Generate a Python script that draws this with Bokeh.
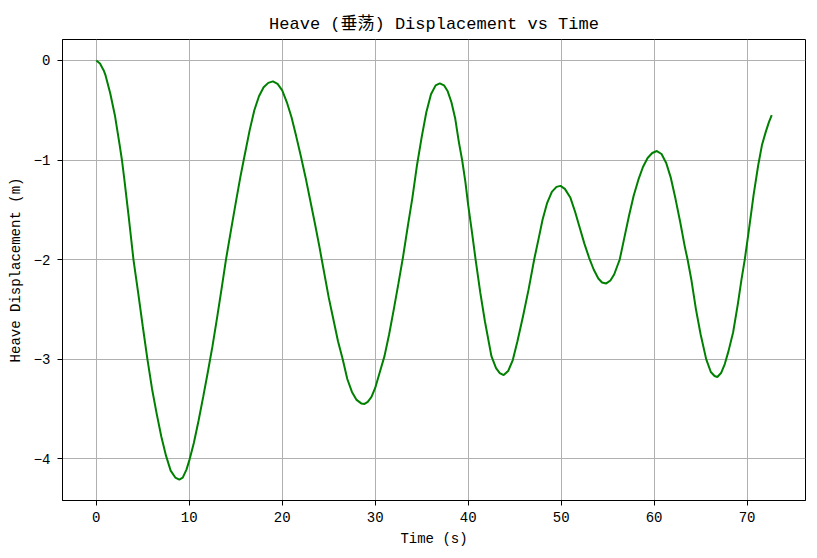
from bokeh.plotting import figure
from bokeh.models import Range1d, FixedTicker
from bokeh.embed import file_html
from bokeh.resources import INLINE

# Data
time_s = [0.0, 0.4, 0.8, 1.0, 1.5, 2.0, 2.5, 2.76, 3.0, 3.5, 4.0, 4.5, 5.0, 5.5, 6.0,
          6.5, 7.0, 7.5, 8.0, 8.5, 8.93, 9.3, 9.7, 10.0, 10.5, 11.0, 11.5, 12.0, 12.5,
          13.0, 13.5, 13.95, 14.5, 15.0, 15.5, 15.9, 16.5, 17.0, 17.5, 18.0, 18.5,
          19.0, 19.5, 20.0, 20.5, 21.0, 21.5, 22.0, 22.5, 23.0, 23.5, 24.0, 24.25,
          25.0, 25.5, 26.0, 26.5, 27.0, 27.5, 28.0, 28.5, 28.85, 29.2, 29.6, 30.0,
          30.5, 31.0, 31.5, 32.0, 32.5, 33.0, 33.5, 34.0, 34.5, 35.0, 35.5, 36.0,
          36.5, 36.95, 37.4, 37.8, 38.2, 38.6, 39.0, 39.35, 39.7, 40.0, 40.4, 40.8,
          41.3, 41.8, 42.5, 43.0, 43.4, 43.82, 44.3, 44.8, 45.3, 45.9, 46.5, 47.1,
          47.6, 48.0, 48.5, 49.0, 49.5, 49.93, 50.4, 51.0, 51.5, 52.0, 52.5, 53.0,
          53.5, 54.0, 54.4, 54.85, 55.3, 55.7, 56.1, 56.3, 56.8, 57.3, 57.8, 58.3,
          58.8, 59.3, 59.8, 60.3, 60.8, 61.3, 61.8, 62.3, 62.8, 63.3, 63.6, 64.0,
          64.5, 65.0, 65.6, 66.1, 66.5, 66.8, 67.2, 67.6, 68.0, 68.5, 69.0, 69.4,
          69.75, 70.2, 70.7, 71.2, 71.6, 72.0, 72.35, 72.65]
heave_m = [0.0, -0.03, -0.10, -0.15, -0.33, -0.55, -0.84, -1.0, -1.18, -1.58, -2.0,
           -2.33, -2.67, -3.0, -3.3, -3.55, -3.78, -3.97, -4.12, -4.19, -4.21, -4.19,
           -4.11, -4.02, -3.84, -3.62, -3.38, -3.13, -2.87, -2.58, -2.28, -2.0, -1.7,
           -1.43, -1.17, -0.98, -0.7, -0.5, -0.36, -0.27, -0.225, -0.21, -0.235,
           -0.30, -0.42, -0.57, -0.76, -0.96, -1.17, -1.4, -1.63, -1.87, -2.0, -2.38,
           -2.6, -2.82, -3.0, -3.2, -3.33, -3.41, -3.445, -3.45, -3.43, -3.38, -3.29,
           -3.13, -2.97, -2.75, -2.5, -2.24, -1.97, -1.67, -1.38, -1.05, -0.77, -0.52,
           -0.34, -0.25, -0.23, -0.25, -0.31, -0.42, -0.58, -0.82, -1.0, -1.22,
           -1.45, -1.72, -2.0, -2.33, -2.62, -2.97, -3.09, -3.14, -3.16, -3.12, -3.01,
           -2.82, -2.57, -2.3, -2.0, -1.78, -1.6, -1.43, -1.32, -1.27, -1.26, -1.29,
           -1.38, -1.52, -1.68, -1.84, -1.98, -2.1, -2.19, -2.23, -2.24, -2.21, -2.15,
           -2.05, -2.0, -1.78, -1.56, -1.36, -1.2, -1.07, -0.98, -0.93, -0.91, -0.94,
           -1.03, -1.18, -1.39, -1.62, -1.87, -2.0, -2.2, -2.5, -2.75, -3.0, -3.13,
           -3.17, -3.18, -3.14, -3.05, -2.92, -2.73, -2.45, -2.2, -2.0, -1.7, -1.35,
           -1.05, -0.85, -0.72, -0.62, -0.55]
x_ticks = [0, 10, 20, 30, 40, 50, 60, 70]
y_ticks = [0, -1, -2, -3, -4]

title_text = "Heave (垂荡) Displacement vs Time"
x_label = "Time (s)"
y_label = "Heave Displacement (m)"

FONT = "'Liberation Mono', 'Noto Sans CJK SC', monospace"

xmin, xmax = min(time_s), max(time_s)
ymin, ymax = min(heave_m), max(heave_m)
xpad = (xmax - xmin) * 0.05
ypad = (ymax - ymin) * 0.05

p = figure(frame_width=743, frame_height=461,
           x_range=Range1d(xmin - xpad, xmax + xpad),
           y_range=Range1d(ymin - ypad, ymax + ypad),
           output_backend="svg", toolbar_location=None,
           min_border_left=62, min_border_right=3, min_border_top=39, min_border_bottom=49,
           background_fill_color="white", border_fill_color="white")

p.title.text = title_text
p.title.align = "center"
p.title.text_font = FONT
p.title.text_font_size = "17px"
p.title.text_font_style = "normal"
p.title.text_color = "black"
p.title.standoff = 12

p.outline_line_color = "black"
p.outline_line_width = 1
p.outline_line_alpha = 1

p.xaxis.ticker = FixedTicker(ticks=x_ticks)
p.yaxis.ticker = FixedTicker(ticks=y_ticks)
p.xaxis.axis_label = x_label
p.yaxis.axis_label = y_label

for ax in (p.xaxis, p.yaxis):
    ax.axis_line_color = "black"
    ax.major_tick_line_color = "black"
    ax.major_tick_out = 5
    ax.major_tick_in = 0
    ax.minor_tick_line_color = None
    ax.major_label_text_font = FONT
    ax.major_label_text_font_size = "14px"
    ax.major_label_text_color = "black"
    ax.axis_label_text_font = FONT
    ax.axis_label_text_font_size = "14px"
    ax.axis_label_text_font_style = "normal"
    ax.axis_label_text_color = "black"

p.xaxis.major_label_standoff = 6
p.yaxis.major_label_standoff = 7
p.xaxis.axis_label_standoff = 6
p.yaxis.axis_label_standoff = 7

p.grid.grid_line_color = "#b0b0b0"
p.grid.grid_line_width = 1

p.line(time_s, heave_m, line_color="#008000", line_width=2)

open("out.html", "w").write(file_html(p, INLINE))
